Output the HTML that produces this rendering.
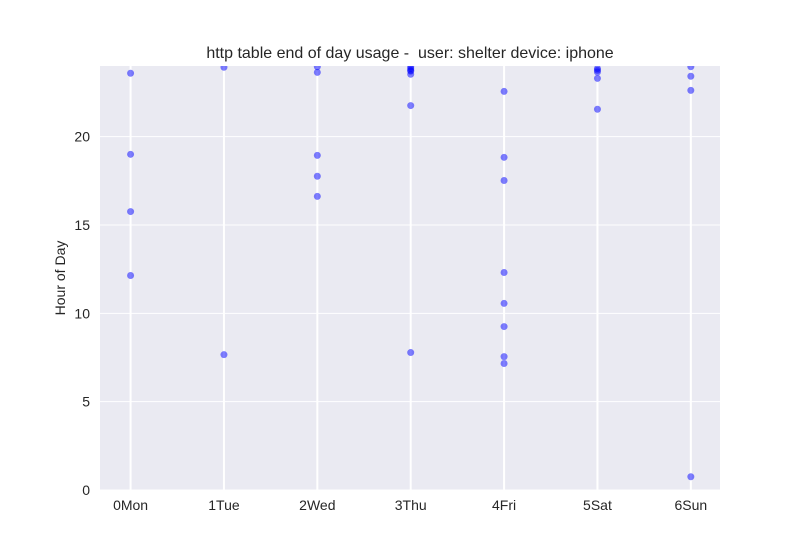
<!DOCTYPE html>
<html><head><meta charset="utf-8"><style>
body{margin:0;background:#fff;}
svg{display:block;font-family:"Liberation Sans",sans-serif;}
</style></head><body>
<svg id="chart" width="800" height="550">
<defs><clipPath id="clip"><rect x="100" y="66" width="620" height="424"/></clipPath></defs>
<rect x="100" y="66" width="620" height="424" fill="#eaeaf2"/>
<g id="grid"></g>
<g id="pts" clip-path="url(#clip)"></g>
<g id="ticks"></g>
<text x="410" y="58" text-anchor="middle" font-size="16" fill="#262626">http table end of day usage - &#160;user: shelter device: iphone</text>
<text transform="translate(65,278) rotate(-90)" text-anchor="middle" font-size="14" fill="#262626">Hour of Day</text>
</svg>
<script>
const categories = ["0Mon","1Tue","2Wed","3Thu","4Fri","5Sat","6Sun"];
const yTicks = [0,5,10,15,20];
const monHours = [23.63,19.04,15.8,12.18];
const tueHours = [23.97,7.7];
const wedHours = [24.0,23.68,18.98,17.8,16.66];
const thuHours = [23.99,23.9,23.8,23.75,23.57,21.8,7.82];
const friHours = [22.6,18.87,17.56,12.35,10.6,9.29,7.59,7.2];
const satHours = [23.9,23.8,23.7,23.34,21.59];
const sunHours = [24.0,23.46,22.66,0.79];
const series = [monHours,tueHours,wedHours,thuHours,friHours,satHours,sunHours];
const NS="http://www.w3.org/2000/svg";
const X0=100,X1=720,Y0=490,Y1=66,xmin=-0.32,xmax=6.32,ymin=0,ymax=24;
const xs=v=>X0+(v-xmin)/(xmax-xmin)*(X1-X0)+0.7;
const ys=v=>Y0-(v-ymin)/(ymax-ymin)*(Y0-Y1);
function mk(tag,attrs,parent){const e=document.createElementNS(NS,tag);for(const k in attrs)e.setAttribute(k,attrs[k]);parent.appendChild(e);return e;}
const grid=document.getElementById('grid'),pts=document.getElementById('pts'),ticks=document.getElementById('ticks');
yTicks.forEach(t=>{
  const l=mk('line',{x1:X0,x2:X1,y1:ys(t),y2:ys(t),stroke:'#fff','stroke-width':1},grid);
  
  
  const tx=mk('text',{x:X0-10,y:ys(t)+5,'text-anchor':'end','font-size':14,fill:'#262626'},ticks);
  tx.textContent=t;
  
  
});
categories.forEach((c,i)=>{
  const l=mk('line',{x1:xs(i),x2:xs(i),y1:Y0,y2:Y1,stroke:'#fff','stroke-width':2},grid);
  
  
  const tx=mk('text',{x:xs(i),y:510,'text-anchor':'middle','font-size':14,fill:'#262626'},ticks);
  tx.textContent=c;
  
  
  series[i].forEach(v=>{
    const p=mk('circle',{cx:xs(i),cy:ys(v)+0.7,r:3.5,fill:'#0000ff','fill-opacity':0.5},pts);
    
    
  });
});
</script>
</body></html>
